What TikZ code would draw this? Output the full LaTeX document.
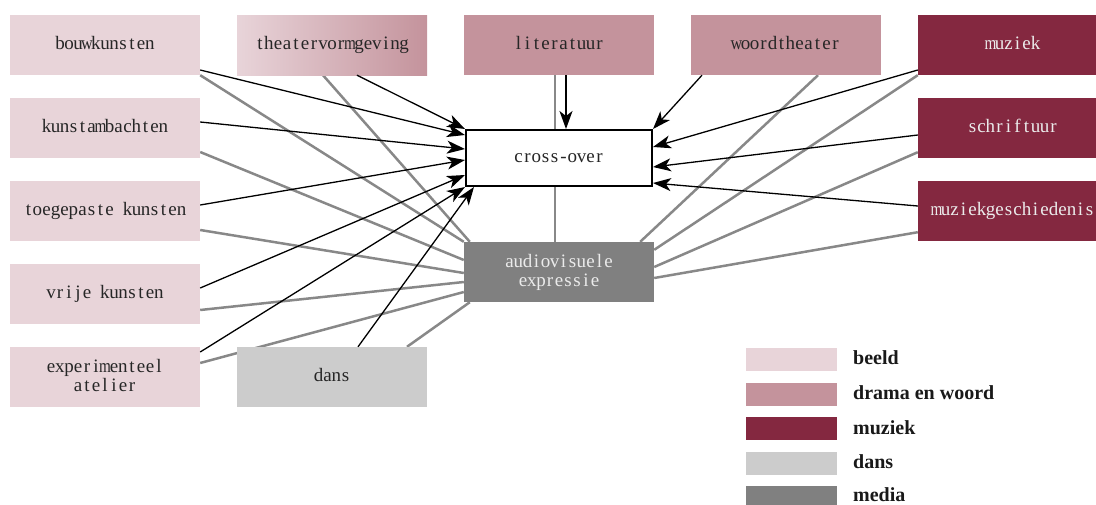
\documentclass[tikz,border=0pt]{standalone}
\usepackage{fontspec}
\usepackage{graphicx}
\setmainfont{Liberation Serif}
\usetikzlibrary{arrows.meta,backgrounds}
\ExplSyntaxOn
\tl_new:N \l_monotext_tl
\cs_new_protected:Npn \monochar_put:n #1
  {
    \str_case:nnF {#1}
      {
        {m} { \makebox[9pt]{\scalebox{0.8}[1]{m}} }
        {w} { \makebox[9pt]{\scalebox{0.85}[1]{w}} }
      }
      { \makebox[9pt]{#1} }
  }
\NewDocumentCommand\mono{m}{
  \tl_set:Nn \l_monotext_tl {#1}
  \tl_replace_all:Nnn \l_monotext_tl {~} {{}}
  \rule[-4pt]{0pt}{17pt}
  \tl_map_function:NN \l_monotext_tl \monochar_put:n
}
\ExplSyntaxOff
\definecolor{beeld}{HTML}{E8D4D9}
\definecolor{drama}{HTML}{C4939C}
\definecolor{muziekc}{HTML}{842840}
\definecolor{dansc}{HTML}{CCCCCC}
\definecolor{mediac}{HTML}{808080}
\definecolor{linkgray}{HTML}{888888}
\tikzset{
  box/.style={rectangle, draw=none, minimum width=190pt, minimum height=60pt, inner sep=0pt,
    align=center, font=\fontsize{19}{19}\selectfont, text=black!85},
  beeldbox/.style={box, fill=beeld},
  dramabox/.style={box, fill=drama},
  muziekbox/.style={box, fill=muziekc, text=white!92!black},
  dansbox/.style={box, fill=dansc},
  mediabox/.style={box, fill=mediac, text=white!92!black},
  crossbox/.style={box, fill=white, draw=black, line width=2pt, minimum width=186pt, minimum height=56pt},
  swatch/.style={rectangle, inner sep=0pt, minimum width=91pt, minimum height=23pt},
  legtext/.style={anchor=base west, inner sep=0pt, font=\bfseries\fontsize{20}{22}\selectfont, text=black!90},
  link/.style={draw=linkgray, line width=2.5pt},
  flow/.style={draw=black, line width=1.3pt, -{Stealth[length=18pt,width=13pt,inset=5pt]}}
}
\begin{document}
\begin{tikzpicture}[x=1pt,y=-1pt]
\useasboundingbox (0,0) rectangle (1096,504);
\clip (0,0) rectangle (1096,504);
% left column
\node[beeldbox] (bouw) at (105,45) {\mono{bouwkunsten}};
\node[beeldbox] (kunst) at (105,128) {\mono{kunstambachten}};
\node[beeldbox] (toeg) at (105,211) {\mono{toegepaste kunsten}};
\node[beeldbox] (vrije) at (105,294) {\mono{vrije kunsten}};
\node[beeldbox] (exper) at (105,377) {\mono{experimenteel}\\\mono{atelier}};
% top row
\node[box, left color=beeld, right color=drama] (theater) at (332,45) {\mono{theatervormgeving}};
\node[dramabox] (lit) at (559,45) {\mono{literatuur}};
\node[dramabox] (woord) at (786,45) {\mono{woordtheater}};
\node[muziekbox] (muz) at (1013,45) {\mono{muziek}};
\node[muziekbox] (schrift) at (1013,128) {\mono{schriftuur}};
\node[muziekbox] (muzg) at (1013,211) {\mono{muziekgeschiedenis}};
% centre
\node[mediabox] (media) at (559,272) {\mono{audiovisuele}\\\mono{expressie}};
\node[dansbox] (dans) at (332,377) {\mono{dans}};
% gray links to media (behind)
\begin{scope}[on background layer]
\draw[link] (bouw.south east) -- (media.north west);
\draw[link] ([yshift=-24pt]kunst.east) -- ([yshift=12pt]media.west);
\draw[link] ([xshift=-9pt]theater.south) -- ([xshift=6pt]media.north west);
\draw[link] ([yshift=-19pt]toeg.east) -- ([yshift=-1pt]media.west);
\draw[link] ([yshift=-16pt]vrije.east) -- ([yshift=-10pt]media.west);
\draw[link] ([yshift=14pt]exper.east) -- ([yshift=-20pt]media.west);
\draw[link] ([xshift=75pt]dans.north) -- ([xshift=6pt]media.south west);
\draw[link] ([xshift=-4pt]lit.south) -- ([xshift=-4pt]media.north);
\draw[link] ([xshift=32pt]woord.south) -- ([xshift=-14pt]media.north east);
\draw[link] (muz.south west) -- ([yshift=-8pt]media.north east);
\draw[link] ([yshift=6pt]schrift.south west) -- ([yshift=5pt]media.east);
\draw[link] ([yshift=9pt]muzg.south west) -- ([yshift=-6pt]media.east);
\end{scope}
\node[crossbox] (cross) at (559,158) {\mono{cross-over}};
% black arrows to cross-over
\draw[flow] ([xshift=25pt]theater.south) -- (cross.north west);
\draw[flow] ([yshift=-25pt]bouw.east) -- ([yshift=23pt]cross.west);
\draw[flow] ([yshift=6pt]kunst.east) -- ([yshift=9pt]cross.west);
\draw[flow] ([yshift=6pt]toeg.east) -- ([yshift=-2pt]cross.west);
\draw[flow] ([yshift=6pt]vrije.east) -- ([yshift=-17pt]cross.west);
\draw[flow] ([yshift=25pt]exper.east) -- (cross.south west);
\draw[flow] ([xshift=26pt]dans.north) -- ([xshift=9pt]cross.south west);
\draw[flow] ([xshift=7pt]lit.south) -- ([xshift=7pt]cross.north);
\draw[flow] ([xshift=-84pt]woord.south) -- (cross.north east);
\draw[flow] ([yshift=-25pt]muz.west) -- ([yshift=11pt]cross.east);
\draw[flow] ([yshift=-7pt]schrift.west) -- ([yshift=-9pt]cross.east);
\draw[flow] ([yshift=5pt]muzg.west) -- ([yshift=-25pt]cross.east);
% legend
\node[swatch, fill=beeld] (lg1) at (791.5,359.5) {};
\node[swatch, fill=drama] (lg2) at (791.5,394) {};
\node[swatch, fill=muziekc] (lg3) at (791.5,428.5) {};
\node[swatch, fill=dansc] (lg4) at (791.5,463) {};
\node[swatch, fill=mediac] (lg5) at (791.5,497.5) {};
\node[legtext] (lt1) at (853,364) {beeld};
\node[legtext] (lt2) at (853,399) {drama en woord};
\node[legtext] (lt3) at (853,434) {muziek};
\node[legtext] (lt4) at (853,468) {dans};
\node[legtext] (lt5) at (853,501) {media};
\end{tikzpicture}
\end{document}
